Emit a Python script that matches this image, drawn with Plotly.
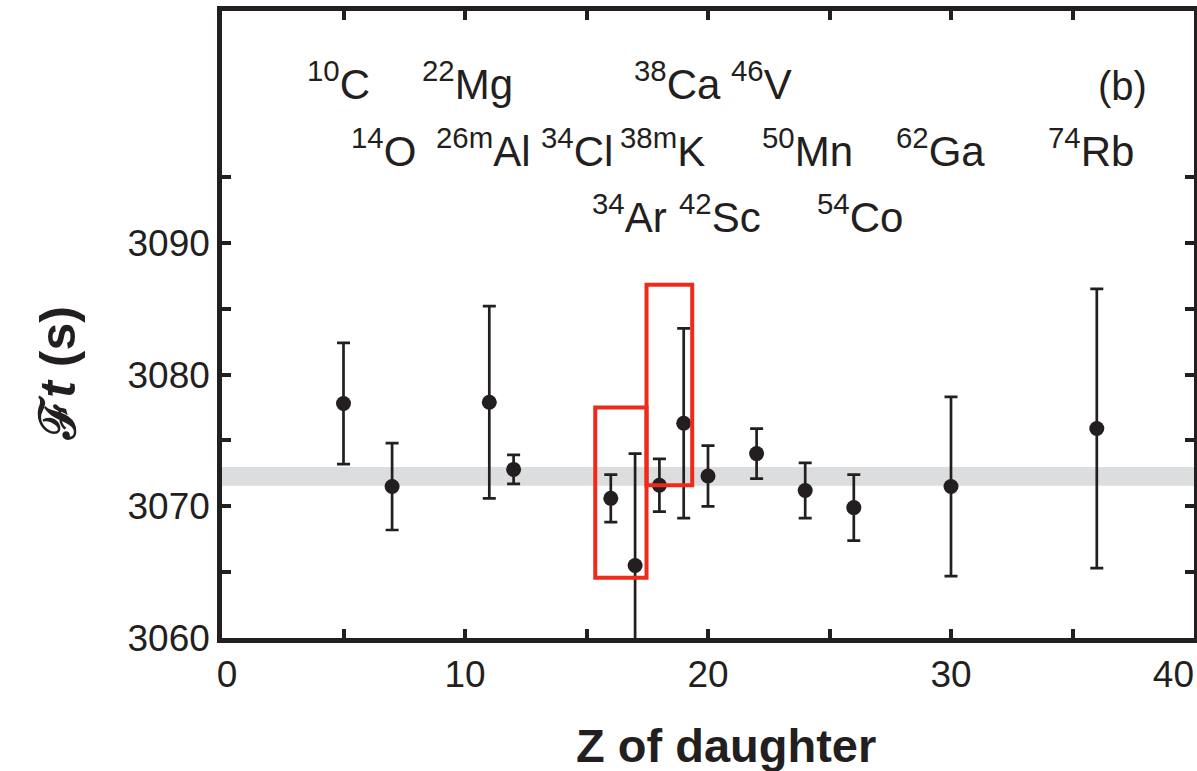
import plotly.graph_objects as go

# Superallowed 0+ -> 0+ beta decays: corrected Ft values vs. Z of the daughter
z_daughter = [5, 7, 11, 12, 16, 17, 18, 19, 20, 22, 24, 26, 30, 36]
ft_values = [3077.8, 3071.5, 3077.9, 3072.8, 3070.6, 3065.5, 3071.6,
             3076.3, 3072.3, 3074.0, 3071.2, 3069.9, 3071.5, 3075.9]
ft_errors = [4.6, 3.3, 7.3, 1.1, 1.8, 8.5, 2.0, 7.2, 2.3, 1.9, 2.1, 2.5, 6.8, 10.6]

# Weighted average Ft and its uncertainty (grey band)
ft_mean = 3072.27
ft_mean_err = 0.72

# Parent nuclide labels
nuclides = ["<sup>10</sup>C", "<sup>22</sup>Mg", "<sup>38</sup>Ca", "<sup>46</sup>V",
            "<sup>14</sup>O", "<sup>26m</sup>Al", "<sup>34</sup>Cl", "<sup>38m</sup>K",
            "<sup>50</sup>Mn", "<sup>62</sup>Ga", "<sup>74</sup>Rb",
            "<sup>34</sup>Ar", "<sup>42</sup>Sc", "<sup>54</sup>Co"]
# label anchor points in data coordinates (x = Z, y = Ft)
label_x = [4.81, 10.12, 18.76, 22.21,
           6.66, 10.78, 14.6, 18.14, 24.1, 29.55, 35.76,
           16.78, 20.49, 26.25]
label_y = [3102.3] * 4 + [3097.2] * 7 + [3092.2] * 3

# Highlighted regions (mirror pairs 34Cl/34Ar and 38mK/38Ca)
boxes = [(15.36, 17.47, 3064.57, 3077.49), (17.47, 19.35, 3071.6, 3086.82)]

INK = "#231f20"
FONT = "Liberation Sans, Arial, Helvetica, sans-serif"
NBSP = "\u00a0"

fig = go.Figure()

fig.add_trace(go.Scatter(
    x=z_daughter, y=ft_values, mode="markers",
    marker=dict(size=15, color=INK),
    error_y=dict(type="data", array=ft_errors, visible=True,
                 color=INK, thickness=2.7, width=6.5),
    showlegend=False,
))

fig.add_shape(type="rect", xref="paper", yref="y", x0=0, x1=1,
              y0=ft_mean - ft_mean_err, y1=ft_mean + ft_mean_err,
              fillcolor="#dcdddf", line=dict(width=0), layer="below")

for x0, x1, y0, y1 in boxes:
    fig.add_shape(type="rect", xref="x", yref="y", x0=x0, x1=x1, y0=y0, y1=y1,
                  line=dict(color="#ee2a1b", width=4), fillcolor="rgba(0,0,0,0)")

for text, lx, ly in zip(nuclides, label_x, label_y):
    fig.add_annotation(x=lx, y=ly, xref="x", yref="y", text=text, showarrow=False,
                       xanchor="center", yanchor="middle",
                       font=dict(family=FONT, size=42, color=INK))

fig.add_annotation(x=37.07, y=3101.9, xref="x", yref="y", text="(b)", showarrow=False,
                   xanchor="center", yanchor="middle",
                   font=dict(family=FONT, size=40, color=INK))

# Axis titles
fig.add_annotation(x=0.5187, y=-0.1707, xref="paper", yref="paper",
                   text="<b>Z of daughter</b>", showarrow=False,
                   xanchor="center", yanchor="middle",
                   font=dict(family=FONT, size=47, color=INK))
fig.add_annotation(x=-0.169, y=0.4226, xref="paper", yref="paper",
                   text="<b>ℱ<i>t</i> (s)</b>", showarrow=False, textangle=-90,
                   xanchor="center", yanchor="middle",
                   font=dict(family=FONT, size=50, color=INK))

x_ticks = [0, 5, 10, 15, 20, 25, 30, 35, 40]
x_ticktext = [NBSP + "0", "", "10", "", "20", "", "30", "", "40" + NBSP * 4]
y_ticks = [3060, 3065, 3070, 3075, 3080, 3085, 3090, 3095]

axis_common = dict(showline=True, linecolor=INK, linewidth=4.5, mirror="ticks",
                   ticks="inside", ticklen=9, tickwidth=4, tickcolor=INK,
                   showgrid=False, zeroline=False, automargin=False)

fig.update_xaxes(range=[0, 40], tickvals=x_ticks, ticktext=x_ticktext,
                 ticklabeloverflow="allow",
                 tickfont=dict(family=FONT, size=37, color=INK), **axis_common)
fig.update_yaxes(range=[3060, 3107.6], tickvals=y_ticks,
                 ticktext=[str(v) if v % 10 == 0 else "" for v in y_ticks],
                 tickfont=dict(family=FONT, size=37, color=INK), **axis_common)

fig.update_layout(width=1197, height=771,
                  margin=dict(l=222, r=3, t=11, b=133),
                  paper_bgcolor="white", plot_bgcolor="white")

fig.write_html("out.html")
